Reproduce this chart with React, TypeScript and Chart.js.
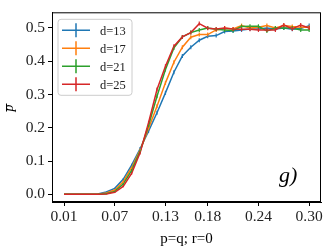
import React, { useEffect, useRef } from "react";
import { Chart, registerables } from "chart.js";

Chart.register(...registerables);

const P_VALUES = [
  0.01, 0.02, 0.03, 0.04, 0.05, 0.06, 0.07, 0.08, 0.09, 0.1,
  0.11, 0.12, 0.13, 0.14, 0.15, 0.16, 0.17, 0.18, 0.19, 0.2,
  0.21, 0.22, 0.23, 0.24, 0.25, 0.26, 0.27, 0.28, 0.29, 0.3,
];

const D13 = [
  0, 0, 0, 0, 0.001, 0.007, 0.018, 0.045, 0.088, 0.137,
  0.19, 0.245, 0.305, 0.367, 0.416, 0.442, 0.463, 0.475, 0.477, 0.489,
  0.491, 0.494, 0.497, 0.497, 0.5, 0.497, 0.5, 0.496, 0.498, 0.507,
];
const D17 = [
  0, 0, 0, 0, 0, 0.004, 0.013, 0.038, 0.08, 0.133,
  0.198, 0.265, 0.335, 0.397, 0.442, 0.472, 0.48, 0.48, 0.494, 0.499,
  0.497, 0.507, 0.5, 0.502, 0.507, 0.5, 0.507, 0.504, 0.502, 0.502,
];
const D21 = [
  0, 0, 0, 0, 0, 0.002, 0.009, 0.031, 0.072, 0.129,
  0.207, 0.295, 0.375, 0.44, 0.473, 0.486, 0.494, 0.5, 0.496, 0.494,
  0.492, 0.504, 0.505, 0.505, 0.491, 0.5, 0.5, 0.5, 0.494, 0.494,
];
const D25 = [
  0, 0, 0, 0, 0, 0.001, 0.006, 0.024, 0.063, 0.125,
  0.215, 0.315, 0.385, 0.445, 0.473, 0.486, 0.513, 0.499, 0.497, 0.5,
  0.497, 0.496, 0.496, 0.494, 0.494, 0.494, 0.509, 0.497, 0.509, 0.5,
];
// error bar half-heights (same for all series)
const ERR = [
  0, 0, 0, 0, 0, 0.001, 0.002, 0.003, 0.004, 0.005,
  0.006, 0.006, 0.006, 0.006, 0.006, 0.006, 0.006, 0.006, 0.006, 0.006,
  0.006, 0.006, 0.006, 0.006, 0.006, 0.006, 0.006, 0.006, 0.006, 0.006,
];

const SERIES_LABELS = ["d=13", "d=17", "d=21", "d=25"];
const SERIES_DATA = [D13, D17, D21, D25];
const COLORS = ["#1f77b4", "#ff7f0e", "#2ca02c", "#d62728"];
const X_TICKS = [0.01, 0.07, 0.13, 0.18, 0.24, 0.3];
const Y_TICKS = [0, 0.1, 0.2, 0.3, 0.4, 0.5];

const SERIF = "'Liberation Serif', 'DejaVu Serif', serif";

const decorPlugin = {
  id: "decor",
  afterDatasetsDraw(chart: any) {
    const ctx = chart.ctx;
    const xs = chart.scales.x;
    const ys = chart.scales.y;
    // error bars
    chart.data.datasets.forEach((ds: any, i: number) => {
      const meta = chart.getDatasetMeta(i);
      if (meta.hidden) return;
      ctx.save();
      ctx.strokeStyle = ds.borderColor;
      ctx.lineWidth = 1.2;
      ds.data.forEach((pt: any, j: number) => {
        const e = ERR[j];
        if (!e) return;
        const px = xs.getPixelForValue(pt.x);
        ctx.beginPath();
        ctx.moveTo(px, ys.getPixelForValue(pt.y - e));
        ctx.lineTo(px, ys.getPixelForValue(pt.y + e));
        ctx.stroke();
      });
      ctx.restore();
    });
  },
  afterDraw(chart: any) {
    const ctx = chart.ctx;
    const a = chart.chartArea;
    ctx.save();
    // frame
    ctx.strokeStyle = "#000";
    ctx.lineWidth = 1;
    ctx.strokeRect(a.left + 0.5, a.top + 0.5, a.right - a.left - 1, a.bottom - a.top - 1);

    // legend
    const lx = a.left + 6;
    const ly = a.top + 7;
    const lw = 74;
    const lh = 76;
    const r = 3;
    ctx.beginPath();
    ctx.moveTo(lx + r, ly);
    ctx.lineTo(lx + lw - r, ly);
    ctx.arcTo(lx + lw, ly, lx + lw, ly + r, r);
    ctx.lineTo(lx + lw, ly + lh - r);
    ctx.arcTo(lx + lw, ly + lh, lx + lw - r, ly + lh, r);
    ctx.lineTo(lx + r, ly + lh);
    ctx.arcTo(lx, ly + lh, lx, ly + lh - r, r);
    ctx.lineTo(lx, ly + r);
    ctx.arcTo(lx, ly, lx + r, ly, r);
    ctx.closePath();
    ctx.fillStyle = "rgba(255,255,255,0.8)";
    ctx.fill();
    ctx.strokeStyle = "#cccccc";
    ctx.lineWidth = 1;
    ctx.stroke();

    ctx.font = `12.5px ${SERIF}`;
    ctx.textBaseline = "middle";
    ctx.textAlign = "left";
    SERIES_LABELS.forEach((lab, i) => {
      const cy = ly + 11 + i * 18;
      ctx.strokeStyle = COLORS[i];
      ctx.lineWidth = 1.5;
      ctx.beginPath();
      ctx.moveTo(lx + 4, cy);
      ctx.lineTo(lx + 32, cy);
      ctx.moveTo(lx + 18, cy - 7);
      ctx.lineTo(lx + 18, cy + 7);
      ctx.stroke();
      ctx.fillStyle = "#222";
      ctx.fillText(lab, lx + 42, cy + 1);
    });

    // panel label
    ctx.fillStyle = "#000";
    ctx.font = `italic 22px ${SERIF}`;
    ctx.textAlign = "left";
    ctx.textBaseline = "alphabetic";
    ctx.fillText("g)", a.right - 42, a.top + 170);

    // axis titles
    ctx.font = `15px ${SERIF}`;
    ctx.textAlign = "center";
    ctx.textBaseline = "middle";
    ctx.fillText("p=q; r=0", (a.left + a.right) / 2, 239);

    // y title: p with overline, rotated
    ctx.save();
    ctx.translate(0, 108);
    ctx.rotate(-Math.PI / 2);
    ctx.font = `italic 14px ${SERIF}`;
    ctx.textAlign = "center";
    ctx.textBaseline = "alphabetic";
    ctx.fillText("p", 0, 13);
    ctx.strokeStyle = "#000";
    ctx.lineWidth = 1;
    ctx.beginPath();
    ctx.moveTo(-3.5, 6.5);
    ctx.lineTo(4.5, 6.5);
    ctx.stroke();
    ctx.restore();

    ctx.restore();
  },
};

export default function App() {
  const ref = useRef<HTMLCanvasElement | null>(null);

  useEffect(() => {
    document.body.style.margin = "0";
    const canvas = ref.current;
    if (!canvas) return;
    const datasets = SERIES_DATA.map((vals, i) => ({
      label: SERIES_LABELS[i],
      data: vals.map((v, j) => ({ x: P_VALUES[j], y: v })),
      borderColor: COLORS[i],
      backgroundColor: COLORS[i],
      borderWidth: 1.5,
      pointRadius: 0,
      tension: 0,
      order: 3 - i,
    }));

    const chart = new Chart(canvas, {
      type: "line",
      data: { datasets },
      plugins: [decorPlugin],
      options: {
        responsive: false,
        animation: false,
        devicePixelRatio: 1,
        layout: { padding: { top: 7, right: 11, left: 0, bottom: 0 } },
        plugins: {
          legend: { display: false },
          tooltip: { enabled: false },
          title: { display: false },
        },
        scales: {
          x: {
            type: "linear",
            min: -0.0042,
            max: 0.314,
            afterBuildTicks: (s: any) => {
              s.ticks = X_TICKS.map((v) => ({ value: v }));
            },
            afterFit: (s: any) => {
              s.height = 47;
            },
            ticks: {
              color: "#222",
              font: { family: SERIF, size: 15.5 },
              padding: 2,
              maxRotation: 0,
              autoSkip: false,
              callback: (v: any) => Number(v).toFixed(2),
            },
            grid: {
              display: true,
              drawOnChartArea: false,
              drawTicks: true,
              tickLength: 4,
              color: "#000",
            },
            border: { display: true, color: "#000" },
          },
          y: {
            type: "linear",
            min: -0.023,
            max: 0.547,
            afterBuildTicks: (s: any) => {
              s.ticks = Y_TICKS.map((v) => ({ value: v }));
            },
            afterFit: (s: any) => {
              s.width = 52;
            },
            ticks: {
              color: "#222",
              font: { family: SERIF, size: 15.5 },
              padding: 3,
              autoSkip: false,
              callback: (v: any) => Number(v).toFixed(1),
            },
            grid: {
              display: true,
              drawOnChartArea: false,
              drawTicks: true,
              tickLength: 4,
              color: "#000",
            },
            border: { display: true, color: "#000" },
          },
        },
      },
    } as any);

    return () => chart.destroy();
  }, []);

  return (
    <div style={{ width: 332, height: 249, background: "#fff" }}>
      <canvas ref={ref} width={332} height={249} style={{ display: "block" }} />
    </div>
  );
}
